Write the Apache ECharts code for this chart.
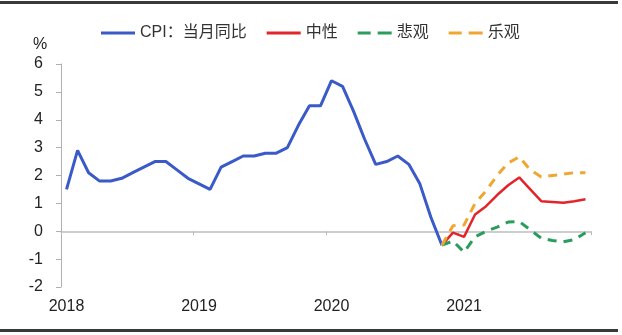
<!DOCTYPE html>
<html>
<head>
<meta charset="utf-8">
<script src="https://cdn.jsdelivr.net/npm/echarts@6/dist/echarts.min.js"></script>
<style>
html,body{margin:0;padding:0;background:#fff;}
#c{width:622px;height:335px;}
</style>
</head>
<body>
<div id="c"></div>
<script>
var categories = [
  '2018-01','2018-02','2018-03','2018-04','2018-05','2018-06','2018-07','2018-08','2018-09','2018-10','2018-11','2018-12',
  '2019-01','2019-02','2019-03','2019-04','2019-05','2019-06','2019-07','2019-08','2019-09','2019-10','2019-11','2019-12',
  '2020-01','2020-02','2020-03','2020-04','2020-05','2020-06','2020-07','2020-08','2020-09','2020-10','2020-11','2020-12',
  '2021-01','2021-02','2021-03','2021-04','2021-05','2021-06','2021-07','2021-08','2021-09','2021-10','2021-11','2021-12'
];
var yearLabels = ['2018','2019','2020','2021'];
var seriesNames = ['CPI：当月同比','中性','悲观','乐观'];
var cpi = [
  1.5, 2.9, 2.1, 1.8, 1.8, 1.9, 2.1, 2.3, 2.5, 2.5, 2.2, 1.9,
  1.7, 1.5, 2.3, 2.5, 2.7, 2.7, 2.8, 2.8, 3.0, 3.8, 4.5, 4.5,
  5.4, 5.2, 4.3, 3.3, 2.4, 2.5, 2.7, 2.4, 1.7, 0.5, -0.5
];
var forecastStart = 34;
var neutral     = [-0.5, -0.05, -0.2, 0.6, 0.9, 1.3, 1.65, 1.93, 1.5, 1.08, 1.05, 1.02, 1.08, 1.15];
var pessimistic = [-0.5, -0.35, -0.75, -0.2, 0.0, 0.15, 0.33, 0.35, 0.05, -0.25, -0.33, -0.38, -0.3, -0.05];
var optimistic  = [-0.5, 0.2, 0.22, 1.0, 1.45, 2.0, 2.45, 2.67, 2.2, 1.95, 2.0, 2.05, 2.1, 2.1];
var yTicks = { min: -2, max: 6, interval: 1 };

function pad(arr, start) {
  var out = [];
  for (var i = 0; i < categories.length; i++) {
    var k = i - start;
    out.push(k >= 0 && k < arr.length ? arr[k] : null);
  }
  return out;
}

var SOLID_ICON = 'path://M0,0H34V3H0Z';
var DASH_ICON = 'path://M0,0H13V3H0Z M20,0H34V3H20Z';
var colors = ['#3a5bc7', '#e2242b', '#2a9d5c', '#f0a732'];

var FONT = '"Liberation Sans", Arial, "Noto Sans CJK SC", sans-serif';
var chart = echarts.init(document.getElementById('c'), null, {renderer: 'canvas'});
chart.setOption({
  animation: false,
  backgroundColor: '#fff',
  textStyle: { fontFamily: FONT },
  title: {
    text: '%', left: 33, top: 37, padding: 0,
    textStyle: { fontSize: 16, fontWeight: 'normal', color: '#222', fontFamily: FONT }
  },
  legend: {
    left: 101, top: 25, padding: 0,
    itemWidth: 34, itemHeight: 3, itemGap: 20,
    textStyle: { fontSize: 16, color: '#333', fontFamily: FONT },
    data: [
      { name: seriesNames[0], icon: SOLID_ICON, itemStyle: { color: colors[0] } },
      { name: seriesNames[1], icon: SOLID_ICON, itemStyle: { color: colors[1] } },
      { name: seriesNames[2], icon: DASH_ICON, itemStyle: { color: colors[2] } },
      { name: seriesNames[3], icon: DASH_ICON, itemStyle: { color: colors[3] } }
    ]
  },
  grid: { left: 61, right: 31, top: 64, bottom: 48 },
  xAxis: [
    {
      type: 'category', data: categories, boundaryGap: true, position: 'bottom',
      axisLine: { show: false, onZero: false },
      axisTick: { show: false },
      axisLabel: {
        interval: 11, margin: 12, fontSize: 16, color: '#222', fontFamily: FONT,
        formatter: function (v, i) { return yearLabels[Math.floor(i / 12)]; }
      }
    },
    {
      type: 'category', data: categories, boundaryGap: true, position: 'bottom',
      axisLine: { show: true, onZero: true, lineStyle: { color: '#bdbdbd', width: 1.5 } },
      axisTick: { show: true, interval: 11, length: 4, lineStyle: { color: '#bdbdbd' } },
      axisLabel: { show: false }
    }
  ],
  yAxis: {
    type: 'value', min: yTicks.min, max: yTicks.max, interval: yTicks.interval,
    axisLine: { show: true, lineStyle: { color: '#b0b0b0', width: 1 } },
    axisTick: { show: true, length: 5, lineStyle: { color: '#b0b0b0' } },
    splitLine: { show: false },
    axisLabel: { fontSize: 16, color: '#222', margin: 18, fontFamily: FONT }
  },
  graphic: [
    { type: 'rect', shape: { x: 0, y: 1, width: 618, height: 3 }, style: { fill: '#3a3a3a' }, silent: true },
    { type: 'rect', shape: { x: 0, y: 329, width: 618, height: 3 }, style: { fill: '#3a3a3a' }, silent: true }
  ],
  series: [
    { name: seriesNames[0], type: 'line', xAxisIndex: 0, data: pad(cpi, 0), symbol: 'none',
      lineStyle: { color: colors[0], width: 3 }, itemStyle: { color: colors[0] }, z: 2 },
    { name: seriesNames[1], type: 'line', xAxisIndex: 0, data: pad(neutral, forecastStart), symbol: 'none',
      lineStyle: { color: colors[1], width: 2.5 }, itemStyle: { color: colors[1] }, z: 3 },
    { name: seriesNames[2], type: 'line', xAxisIndex: 0, data: pad(pessimistic, forecastStart), symbol: 'none',
      lineStyle: { color: colors[2], width: 3, type: [9, 7] }, itemStyle: { color: colors[2] }, z: 4 },
    { name: seriesNames[3], type: 'line', xAxisIndex: 0, data: pad(optimistic, forecastStart), symbol: 'none',
      lineStyle: { color: colors[3], width: 3, type: [9, 7] }, itemStyle: { color: colors[3] }, z: 5 }
  ]
});
</script>
</body>
</html>
